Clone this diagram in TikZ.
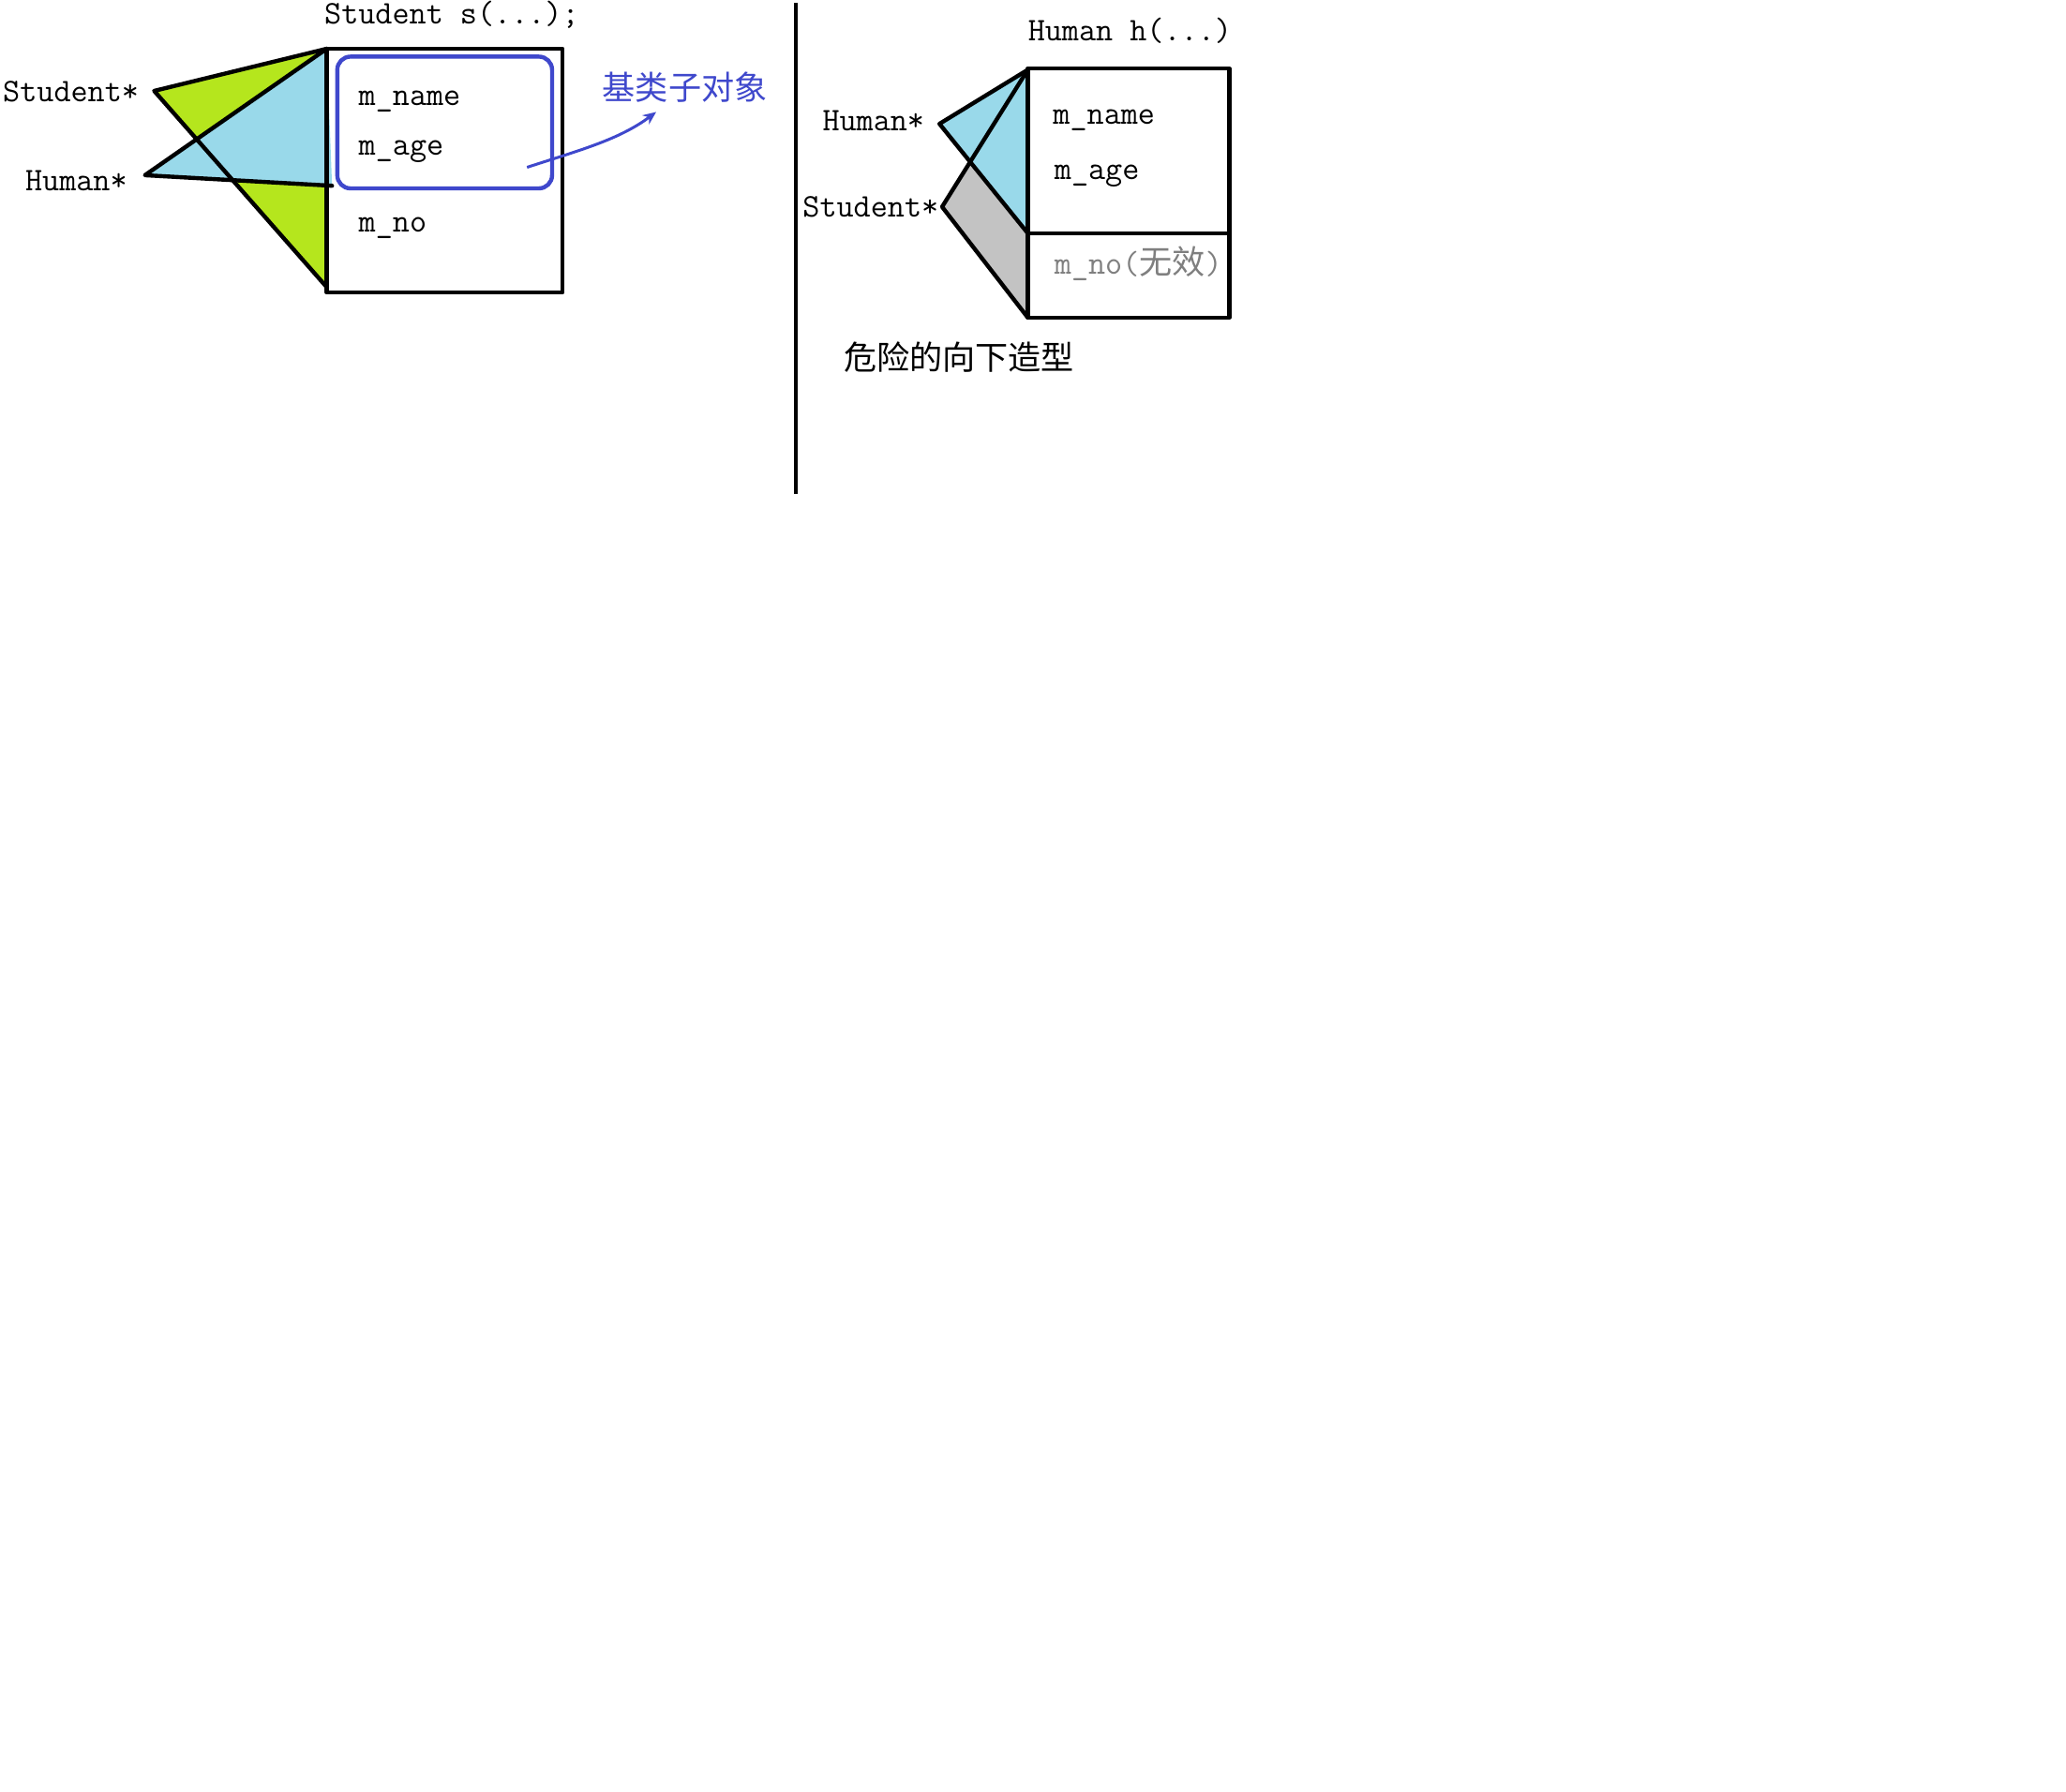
\documentclass[tikz,border=0pt]{standalone}
\usepackage{fontspec}
\setmonofont{Latin Modern Mono}
\newfontfamily\cjk{Noto Sans CJK SC}
\usetikzlibrary{arrows.meta}
\definecolor{mygreen}{HTML}{B5E61D}
\definecolor{myblue}{HTML}{99D9EA}
\definecolor{mygray}{HTML}{C3C3C3}
\definecolor{myindigo}{HTML}{3F48CC}
\definecolor{mytextgray}{HTML}{7F7F7F}
\begin{document}
\begin{tikzpicture}[x=0.7028pt,y=-0.7028pt,
  txt/.style={inner sep=0pt, anchor=base west, font=\fontsize{17.57pt}{20pt}\ttfamily},
  edge/.style={line width=2.2pt, line join=round, line cap=round},
  fillgreen/.style={fill=mygreen},
  fillblue/.style={fill=myblue},
  fillgray/.style={fill=mygray}]
\useasboundingbox[fill=white] (0,0) rectangle (1568,1360);

% ---------- left part ----------
\coordinate (Ltop) at (248,37);
\coordinate (Sapex) at (117,69);
\coordinate (Sbot) at (248,218);
\coordinate (Hapex) at (110,133);
\coordinate (Hbot) at (252,141);
\fill[fillgreen] (Sapex) -- (Ltop) -- (Sbot) -- cycle;
\fill[fillblue] (Hapex) -- (Ltop) -- (Hbot) -- cycle;
\draw[edge] (Ltop) -- (Sapex) -- (Sbot);
\draw[edge] (Ltop) -- (Hapex) -- (Hbot);
\draw[edge] (248,37) rectangle (427,222);
\draw[myindigo, line width=2.2pt, rounded corners=7pt] (256,43) rectangle (419,143);

\node[txt] (ts) at (246,18) {Student s(...);};
\node[txt] (lstud) at (2,77) {Student*};
\node[txt] (lhum) at (19,145) {Human*};
\node[txt] (lname) at (272,80) {m\_name};
\node[txt] (lage) at (272,118) {m\_age};
\node[txt] (lno) at (272,176) {m\_no};
\node[txt, text=myindigo] (base) at (457,76) {\cjk 基类子对象};
\coordinate (astart) at (400,127);
\draw[myindigo, line width=1.5pt, -{Stealth[length=7pt,width=6pt]}]
  (astart) .. controls (440,114) and (470,106) .. (498,85);

% ---------- separator ----------
\coordinate (v1) at (604,2);
\coordinate (v2) at (604,375);
\draw[line width=2.2pt] (v1) -- (v2);

% ---------- right part ----------
\coordinate (Rtop) at (780,53);
\coordinate (Rmid) at (780,177);
\coordinate (Rbot) at (780,241);
\coordinate (RHapex) at (713,94);
\coordinate (RSapex) at (715,157);
\fill[fillgray] (RSapex) -- (Rtop) -- (Rbot) -- cycle;
\fill[fillblue] (RHapex) -- (Rtop) -- (Rmid) -- cycle;
\draw[edge] (Rtop) -- (RHapex) -- (Rmid);
\draw[edge] (Rtop) -- (RSapex) -- (Rbot);
\draw[edge] (780,52) rectangle (933,241);
\draw[edge] (780,177) -- (933,177);

\node[txt] (th) at (780,31) {Human h(...)};
\node[txt] (rhum) at (624,99) {Human*};
\node[txt] (rstud) at (609,165) {Student*};
\node[txt] (rname) at (799,94) {m\_name};
\node[txt] (rage) at (800,136) {m\_age};
\node[txt, text=mytextgray] (rno) at (800,208) {m\_no({\cjk 无效})};
\node[txt] (danger) at (640,281) {\cjk 危险的向下造型};
\end{tikzpicture}
\end{document}
